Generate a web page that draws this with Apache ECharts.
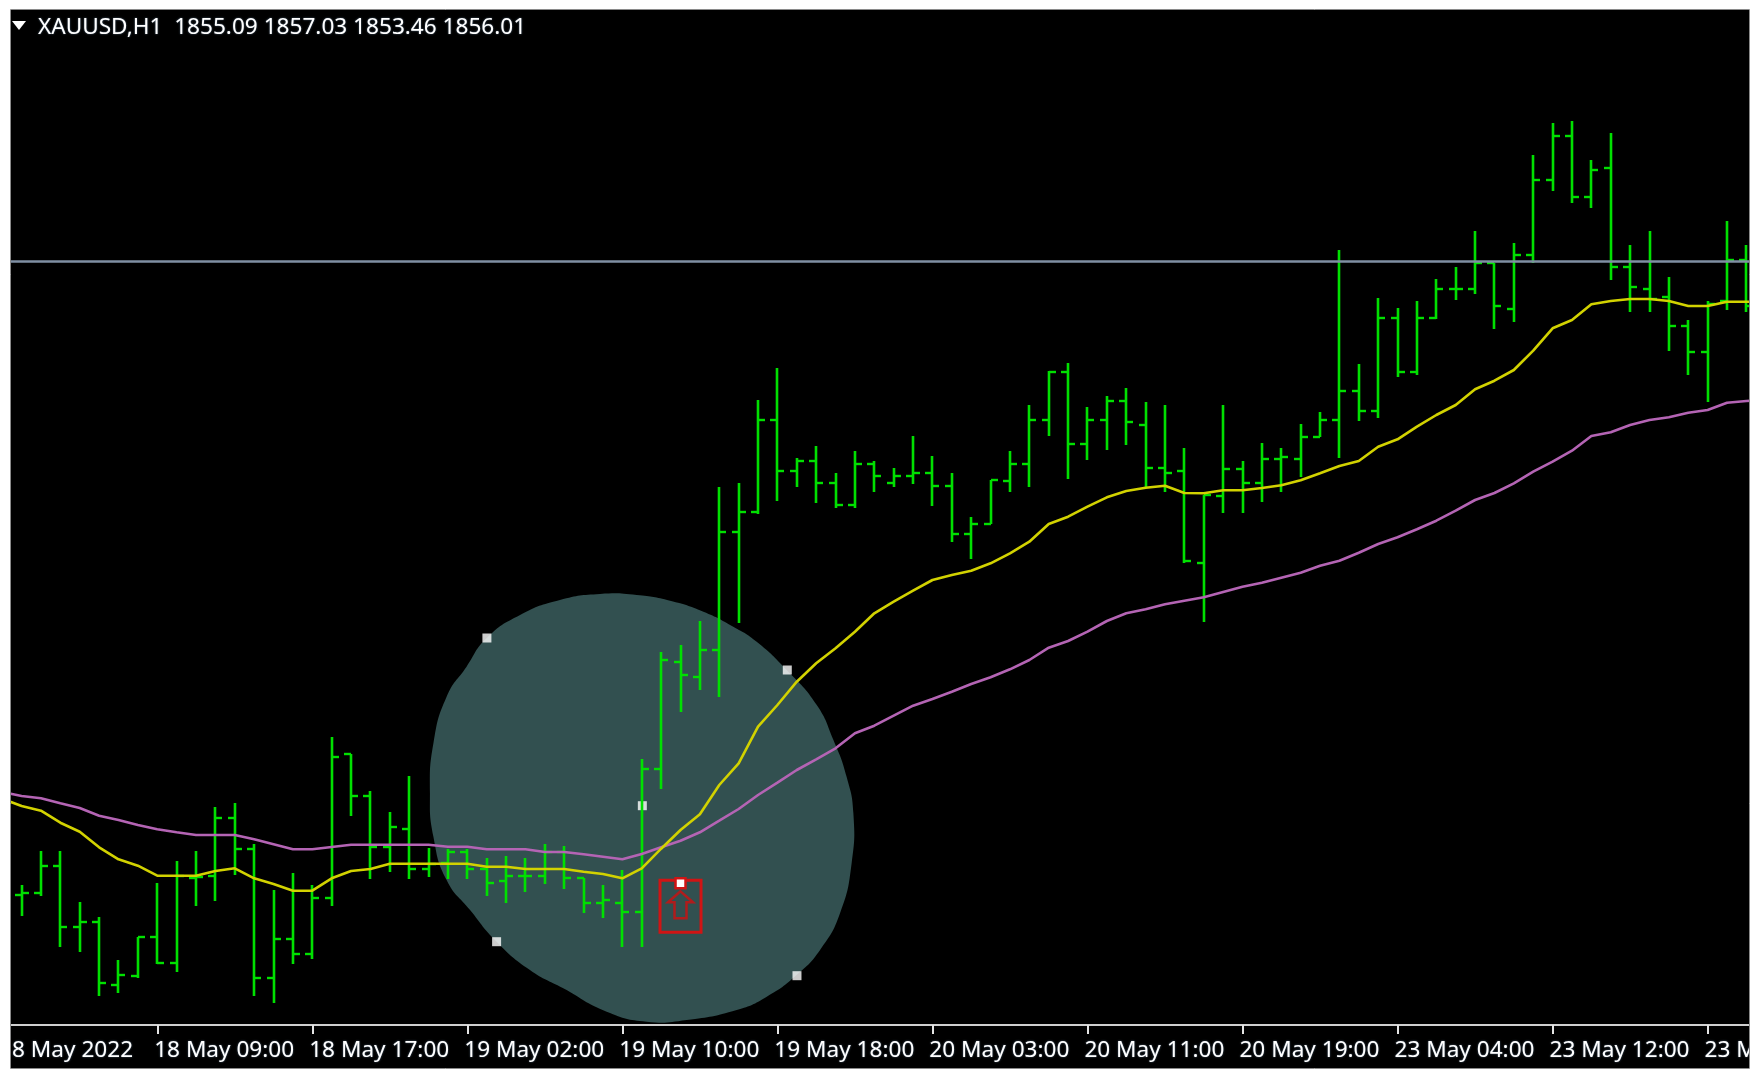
<!DOCTYPE html>
<html>
<head>
<meta charset="utf-8">
<style>html,body{margin:0;padding:0;background:#fff}#chart{width:1760px;height:1080px;filter:blur(0.45px)}</style>
<script src="https://cdn.jsdelivr.net/npm/echarts@6/dist/echarts.min.js"></script>
</head>
<body>
<div id="chart"></div>
<script>
const symbolTitle = 'XAUUSD,H1  1855.09 1857.03 1853.46 1856.01';
const tickIndex = [-1,7,15,23,31,39,47,55,63,71,79,87];
const tickLabels = ['18 May 2022','18 May 09:00','18 May 17:00','19 May 02:00','19 May 10:00','19 May 18:00','20 May 03:00','20 May 11:00','20 May 19:00','23 May 04:00','23 May 12:00','23 May 20:00'];
const opens = [1810.5,1810.67,1813.4,1807.3,1807.8,1801.47,1802.4,1806.33,1803.67,1812.17,1812.43,1818.23,1815.07,1802.23,1806.1,1804.6,1810.2,1824.6,1820.4,1815.33,1817.07,1813.1,1813.67,1814.83,1813.13,1811.9,1812.43,1812.43,1814.83,1812.17,1809.73,1809.73,1808.77,1823.07,1833.77,1832.27,1834.97,1846.83,1848.77,1858,1852.9,1853.87,1851.67,1849.5,1853.63,1851.67,1852.4,1852.67,1851.43,1846.6,1847.57,1851.93,1853.63,1858,1862.83,1855.57,1858,1859.93,1857.5,1853.17,1852.9,1843.67,1850.43,1853.1,1851.67,1854.1,1854.1,1856.27,1858,1860.9,1858.93,1868.17,1862.83,1868.17,1871.1,1871.1,1873.73,1869.13,1874.47,1882,1886.37,1880.3,1883.2,1873.27,1871.1,1870.33,1867.43,1864.77,1869.87,1873.97];
const highs = [1811.5,1814.9,1814.9,1809.83,1808.33,1804,1806.33,1811.73,1813.93,1814.9,1819.27,1819.73,1815.57,1811,1812.73,1811.5,1826.27,1824.6,1820.93,1818.77,1822.4,1815.17,1815.07,1815.07,1814.17,1814.4,1814.17,1815.6,1815.4,1812.23,1811.5,1813,1824.07,1834.83,1835.5,1837.93,1851.27,1851.73,1860,1863.17,1854.17,1855.4,1852.73,1854.93,1853.93,1853.23,1856.4,1854.43,1852.73,1848.33,1852,1854.9,1859.5,1862.9,1863.67,1859.27,1860.43,1861.17,1859.77,1859.5,1855.17,1850.5,1859.5,1853.93,1855.67,1855.17,1857.6,1858.77,1875,1863.6,1870.17,1869.23,1869.93,1872.1,1873.33,1876.93,1873.73,1875.73,1884.5,1887.67,1887.9,1884,1886.67,1875.5,1876.93,1872.33,1868,1869.9,1877.93,1875.5];
const lows = [1808.43,1810.4,1805.27,1804.83,1800.4,1800.67,1802.17,1803.57,1802.83,1809.4,1809.9,1812.5,1800.4,1799.67,1803.57,1804.07,1809.43,1818.4,1812.07,1812.77,1812.07,1812.27,1812.07,1812.07,1810.4,1809.67,1810.83,1811.6,1811.1,1808.73,1808.17,1805.33,1805.33,1821.07,1828.77,1831,1830.27,1837.73,1848.57,1849.9,1851.33,1849.67,1849.17,1849.17,1850.83,1851.33,1851.6,1849.4,1845.77,1844.07,1847.57,1850.83,1851.33,1856.4,1852.07,1854,1855,1855.47,1851.33,1850.83,1843.67,1837.83,1848.67,1848.67,1849.83,1850.83,1852.27,1856.27,1854.23,1857.93,1858.17,1862.27,1862.5,1868.1,1870,1870.57,1867.1,1867.83,1873.73,1880.93,1879.73,1879.23,1871.97,1868.8,1868.8,1864.93,1862.5,1859.83,1869,1868.8];
const closes = [1810.67,1813.4,1807.3,1807.8,1801.73,1802.47,1806.33,1803.67,1812.4,1812.33,1818.23,1815.07,1802.23,1806.1,1804.6,1810.2,1824.3,1820.4,1815.33,1817.27,1813.1,1813.63,1814.83,1813.13,1811.67,1812.43,1812.43,1814.83,1812.17,1809.73,1810,1808.77,1823.07,1834,1832.5,1834.97,1846.83,1848.77,1858,1852.9,1853.87,1851.67,1849.5,1853.63,1852.4,1852.4,1852.67,1851.43,1846.6,1847.57,1851.97,1853.63,1858,1862.83,1855.57,1858,1859.93,1857.77,1853.17,1852.67,1843.93,1850.5,1853.1,1851.67,1854.1,1854.33,1856.3,1858,1860.9,1858.93,1868.17,1862.83,1868.17,1871.1,1871.1,1873.73,1869.37,1874.47,1882,1886.37,1880.3,1882.97,1873.27,1871.33,1870.1,1867.43,1864.77,1869.63,1873.97,1869.4];
const fastMA = [1820.13,1819.4,1818.93,1817.73,1816.83,1815.27,1814.07,1813.43,1812.43,1812.43,1812.43,1812.9,1813.17,1812.17,1811.6,1810.93,1810.93,1812.17,1812.9,1813.1,1813.63,1813.63,1813.63,1813.63,1813.63,1813.33,1813.33,1813.1,1813.1,1813.1,1812.83,1812.6,1812.17,1813.17,1815.13,1817,1818.57,1821.5,1823.67,1827.33,1829.5,1831.83,1833.67,1835.17,1836.83,1838.67,1839.83,1840.93,1842,1842.5,1842.93,1843.67,1844.67,1845.83,1847.6,1848.33,1849.33,1850.27,1850.9,1851.23,1851.43,1850.7,1850.67,1850.97,1850.97,1851.2,1851.47,1851.97,1852.67,1853.4,1853.9,1855.33,1856.07,1857.33,1858.5,1859.5,1861.07,1861.93,1863,1864.93,1867.17,1868,1869.57,1869.9,1870.1,1870.1,1869.9,1869.4,1869.4,1869.83,1869.83,1869.83];
const slowMA = [1820.8,1820.4,1820.17,1819.67,1819.2,1818.43,1818,1817.5,1817.07,1816.77,1816.5,1816.5,1816.5,1816.07,1815.57,1815.07,1815.07,1815.3,1815.53,1815.53,1815.53,1815.53,1815.53,1815.33,1815.33,1815.07,1815.07,1815.07,1814.8,1814.8,1814.57,1814.33,1814.07,1814.6,1815.27,1815.93,1816.77,1817.93,1819.1,1820.5,1821.73,1823,1824.07,1825.17,1826.67,1827.43,1828.43,1829.43,1830.1,1830.83,1831.6,1832.27,1833.07,1834,1835.23,1835.9,1836.83,1837.9,1838.67,1839.07,1839.57,1839.93,1840.27,1840.8,1841.33,1841.73,1842.23,1842.73,1843.43,1843.93,1844.73,1845.6,1846.27,1847.07,1847.93,1848.93,1850,1850.7,1851.67,1852.83,1853.83,1854.93,1856.4,1856.77,1857.5,1858,1858.27,1858.73,1859,1859.73,1859.9,1860.03];
const hLevel = 1873.85;
const blobX = [29.85,31.74,33.46,35.18,36.72,37.93,39.48,41.03,41.89,42.57,42.92,42.83,42.23,41.2,39.99,38.45,36.9,34.32,32.25,30.19,27.95,26.23,24.51,23.14,21.93,21.25,21.07,21.25,21.93,22.96,23.99,25.72,27.78];
const blobY = [1840.6,1840.5,1839.93,1838.83,1837.33,1835.83,1833,1829.5,1826,1822.33,1818.67,1813.67,1808.67,1805,1802.5,1800.33,1799,1798,1797.83,1798.83,1801.17,1803,1805.83,1809,1812,1816.33,1820.67,1825.67,1830.33,1833.33,1836.17,1838.5,1840];
const handleX = [24.01,39.51,24.51,40.01,32.03];
const handleY = [1836.2,1833,1805.83,1802.43,1819.43];
const arrowIndex = 34;
const arrowPrice = 1811.67;

const AXIS_MIN = -1.5, AXIS_MAX = 89.6;
const LABEL_SHIFT = 0.16;
const GREEN = '#00e000';
const chart = echarts.init(document.getElementById('chart'));

const labelValues = tickIndex.map(v => v - LABEL_SHIFT);
const labelMap = {};
labelValues.forEach((v, k) => { labelMap[v] = tickLabels[k]; });

function renderOhlc(params, api) {
  const x = Math.round(api.coord([api.value(0), 0])[0]);
  const oy = Math.round(api.coord([0, api.value(1)])[1]);
  const hy = Math.round(api.coord([0, api.value(2)])[1]);
  const ly = Math.round(api.coord([0, api.value(3)])[1]);
  const cy = Math.round(api.coord([0, api.value(4)])[1]);
  const style = { fill: GREEN };
  return { type: 'group', children: [
    { type: 'rect', shape: { x: x - 1.3, y: hy, width: 2.6, height: ly - hy }, style },
    { type: 'rect', shape: { x: x - 7, y: oy - 1.2, width: 7, height: 2.4 }, style },
    { type: 'rect', shape: { x: x, y: cy - 1.2, width: 7, height: 2.4 }, style }
  ]};
}
function renderBlob(params, api) {
  if (params.dataIndex !== 0) return;
  const points = blobX.map((v, k) => api.coord([v, blobY[k]]));
  return { type: 'polygon', shape: { points, smooth: 0.5 }, style: { fill: '#325050' } };
}
function renderSignal(params, api) {
  const c = api.coord([api.value(0), api.value(1)]);
  const x = c[0], y = c[1];
  const red = '#d01414';
  return { type: 'group', children: [
    { type: 'rect', shape: { x: x - 20.5, y: y - 3, width: 41, height: 52 }, style: { fill: 'none', stroke: red, lineWidth: 3 } },
    { type: 'polygon', shape: { points: [[x, y + 8], [x - 12.5, y + 19], [x - 6, y + 19], [x - 6, y + 35], [x + 6, y + 35], [x + 6, y + 19], [x + 12.5, y + 19]] }, style: { fill: 'none', stroke: '#b01c1c', lineWidth: 2.5 } },
    { type: 'rect', shape: { x: x - 5, y: y - 5, width: 10, height: 10 }, style: { fill: '#fff', stroke: red, lineWidth: 2.5 } }
  ]};
}

const fringe = { textShadowColor: 'rgba(150,190,230,0.55)', textShadowBlur: 2 };

chart.setOption({
  animation: false,
  backgroundColor: '#fff',
  title: {
    text: symbolTitle, left: 33, top: 11,
    textStyle: Object.assign({ color: '#fff', fontFamily: 'Noto Sans', fontSize: 22.6, fontWeight: 'normal' }, fringe)
  },
  grid: { left: -7.47, top: 10, width: 1765.5, height: 1015, outerBoundsMode: 'none', containLabel: false },
  xAxis: {
    type: 'value', min: AXIS_MIN, max: AXIS_MAX, splitLine: { show: false },
    axisLine: { show: true, onZero: false, lineStyle: { color: '#cfcfcf', width: 2 } },
    axisTick: { show: true, customValues: tickIndex, length: 9, lineStyle: { color: '#e4e4e4', width: 2 } },
    axisLabel: Object.assign({
      customValues: labelValues, color: '#fff', fontFamily: 'Noto Sans', fontSize: 22.6, align: 'left', margin: 14,
      formatter: v => labelMap[v] || ''
    }, fringe)
  },
  yAxis: { type: 'value', min: 1797.5, max: 1899, show: false, splitLine: { show: false } },
  graphic: { elements: [
    { type: 'rect', z: -10, silent: true, shape: { x: 11, y: 10, width: 1738, height: 1058 }, style: { fill: '#000' } },
    { type: 'rect', z: 100, silent: true, shape: { x: 0, y: 0, width: 11, height: 1080 }, style: { fill: '#fff' } },
    { type: 'rect', z: 100, silent: true, shape: { x: 1749, y: 0, width: 11, height: 1080 }, style: { fill: '#fff' } },
    { type: 'rect', z: 101, silent: true, shape: { x: 10.5, y: 9.5, width: 1739, height: 1059 }, style: { fill: 'none', stroke: '#8a8a8a', lineWidth: 1 } },
    { type: 'polygon', z: 102, silent: true, shape: { points: [[12, 21], [26, 21], [19, 30]] }, style: { fill: '#fff' } }
  ]},
  series: [
    { type: 'custom', name: 'zone', z: 1, renderItem: renderBlob, data: [[blobX[0], blobY[0]]], clip: false, silent: true },
    {
      type: 'scatter', name: 'handles', z: 2, symbol: 'rect', symbolSize: 9, silent: true,
      itemStyle: { color: '#fff' }, data: handleX.map((v, k) => [v, handleY[k]])
    },
    {
      type: 'line', name: 'level', z: 2, data: [], silent: true,
      markLine: { silent: true, symbol: 'none', label: { show: false }, animation: false,
        lineStyle: { color: '#7f8fa3', width: 2.6, type: 'solid' }, data: [{ yAxis: hLevel }] }
    },
    {
      type: 'custom', name: 'XAUUSD', z: 3, renderItem: renderOhlc, silent: true,
      encode: { x: 0, y: [1, 2, 3, 4] },
      data: opens.map((o, k) => [k, o, highs[k], lows[k], closes[k]])
    },
    {
      type: 'line', name: 'MA slow', z: 4, symbol: 'none', silent: true,
      lineStyle: { color: '#b464b4', width: 2.6 }, data: slowMA.map((v, k) => [k - 1, v])
    },
    {
      type: 'line', name: 'MA fast', z: 5, symbol: 'none', silent: true,
      lineStyle: { color: '#d2d200', width: 2.6 }, data: fastMA.map((v, k) => [k - 1, v])
    },
    { type: 'custom', name: 'signal', z: 6, renderItem: renderSignal, data: [[arrowIndex, arrowPrice]], clip: false, silent: true }
  ]
});
</script>
</body>
</html>
